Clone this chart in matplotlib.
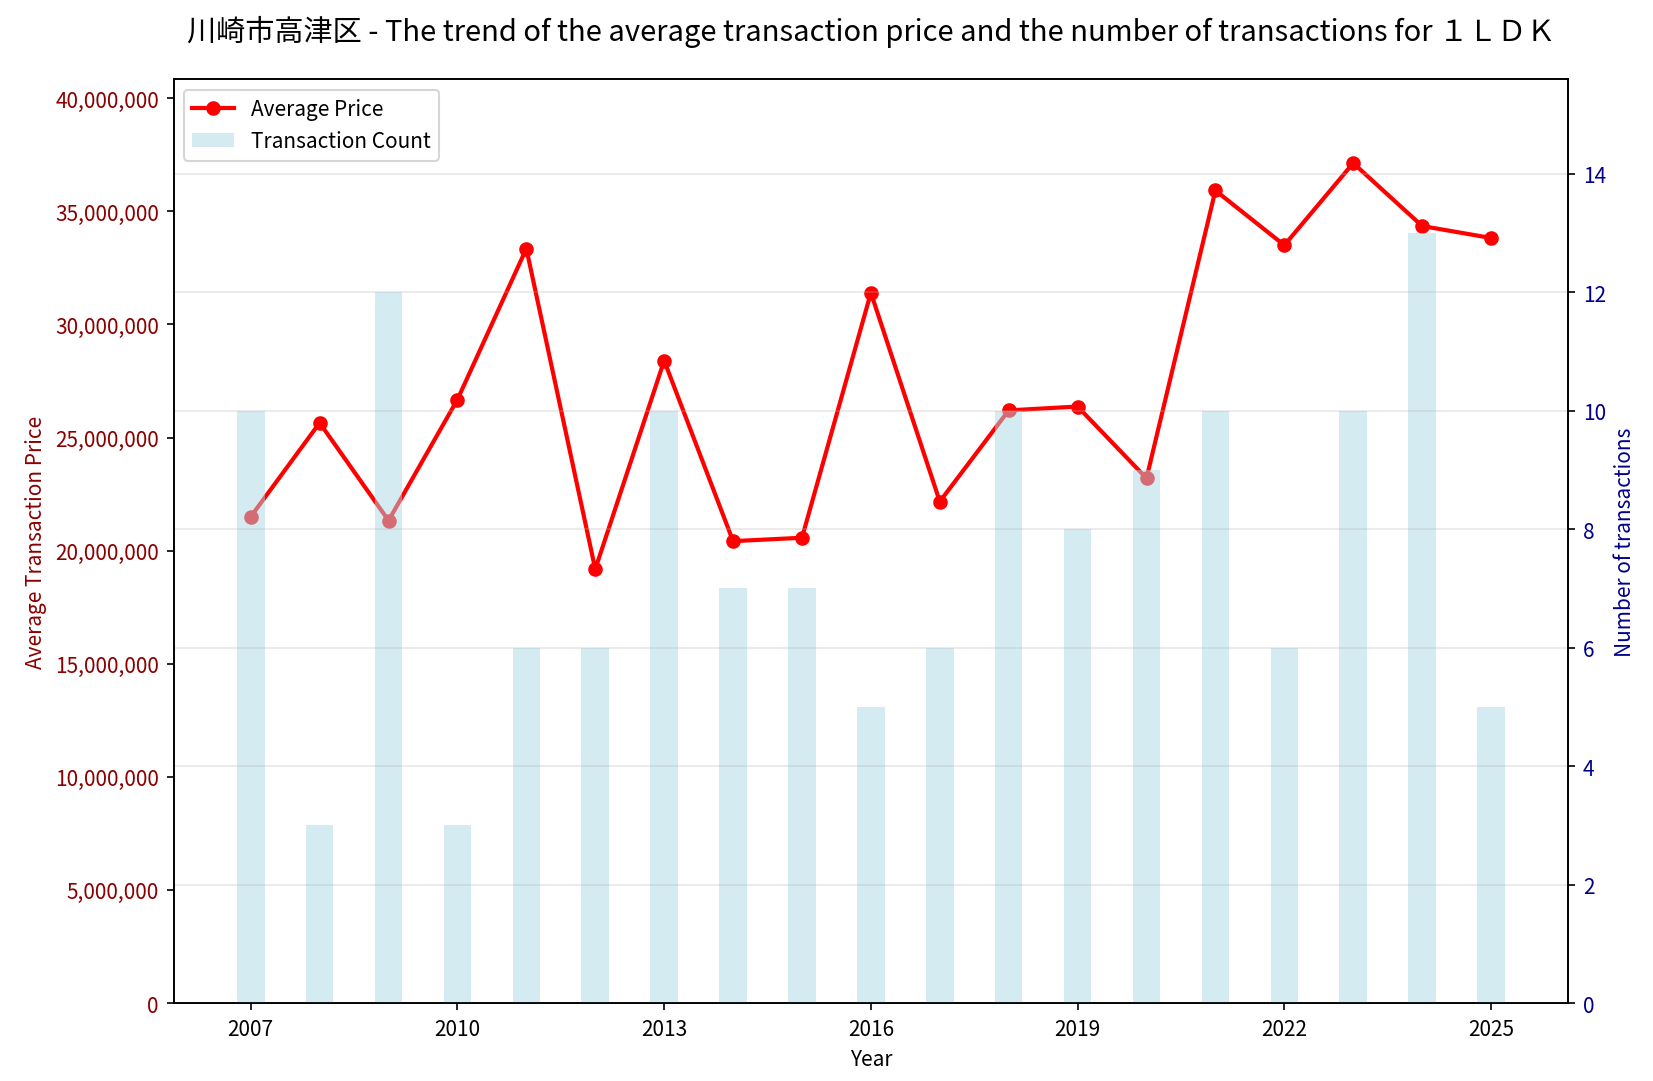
import numpy as np
import matplotlib
matplotlib.use("Agg")
import matplotlib.pyplot as plt
from matplotlib.ticker import FuncFormatter

plt.rcParams['font.family'] = ['Noto Sans CJK JP', 'DejaVu Sans']

# data
years = [2007, 2008, 2009, 2010, 2011, 2012, 2013, 2014, 2015, 2016,
         2017, 2018, 2019, 2020, 2021, 2022, 2023, 2024, 2025]
avg_price = [21500000, 25650000, 21330000, 26680000, 33350000, 19180000,
             28400000, 20420000, 20570000, 31400000, 22170000, 26200000,
             26370000, 23200000, 35920000, 33500000, 37130000, 34350000,
             33820000]
counts = [10, 3, 12, 3, 6, 6, 10, 7, 7, 5, 6, 10, 8, 9, 10, 6, 10, 13, 5]

fig = plt.figure(figsize=(11.02, 7.213), dpi=150)
ax1 = fig.add_axes([0.105, 0.072, 0.8437, 0.854])

line, = ax1.plot(years, avg_price, color='red', marker='o', linewidth=2,
                 markersize=6, label='Average Price')
ax1.set_xlabel('Year', fontsize=10)
ax1.set_ylabel('Average Transaction Price', color='darkred', fontsize=10)
ax1.tick_params(axis='y', labelcolor='darkred')
ax1.yaxis.set_major_formatter(FuncFormatter(lambda v, p: '{:,.0f}'.format(v)))
ax1.set_ylim(0, max(avg_price) * 1.1)

ax2 = ax1.twinx()
bars = ax2.bar(years, counts, width=0.4, color='lightblue', alpha=0.5,
               label='Transaction Count')
ax2.set_ylabel('Number of transactions', color='darkblue', fontsize=10)
ax2.tick_params(axis='y', labelcolor='darkblue')
ax2.set_ylim(0, max(counts) * 1.2)
ax2.grid(True, axis='y', alpha=0.3)

ax1.set_xticks([2007, 2010, 2013, 2016, 2019, 2022, 2025])

ax2.legend([line, bars], ['Average Price', 'Transaction Count'], loc='upper left')

fig.suptitle('川崎市高津区 - The trend of the average transaction price and the number of transactions for １ＬＤＫ',
             fontsize=14, x=0.527, y=0.985)

fig.savefig('out.png', dpi=150)
